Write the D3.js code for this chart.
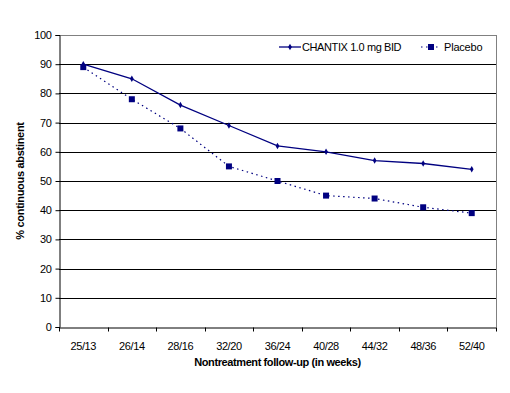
<!DOCTYPE html>
<html>
<head>
<meta charset="utf-8">
<script src="https://cdn.jsdelivr.net/npm/d3@7"></script>
<style>
  body { margin: 0; background: #fff; }
  text { font-family: "Liberation Sans", Arial, sans-serif; }
</style>
</head>
<body>
<div id="viz"></div>
<script>
/*** data ***/
const weeks = ["25/13", "26/14", "28/16", "32/20", "36/24", "40/28", "44/32", "48/36", "52/40"];
const chantix = [90, 85, 76, 69, 62, 60, 57, 56, 54];
const placebo = [89, 78, 68, 55, 50, 45, 44, 41, 39];
const yTicks = [0, 10, 20, 30, 40, 50, 60, 70, 80, 90, 100];

const width = 510, height = 393;
const margin = {top: 35, right: 14, bottom: 66, left: 59};
const navy = "#000080";

const svg = d3.select("#viz")
  .append("svg")
  .attr("width", width)
  .attr("height", height);

const x = d3.scaleBand()
  .domain(weeks)
  .range([margin.left, width - margin.right]);

const y = d3.scaleLinear()
  .domain([0, 100])
  .range([height - margin.bottom, margin.top]);

// gridlines
svg.append("g")
  .selectAll("line")
  .data(yTicks.filter(d => d > 0))
  .join("line")
  .attr("x1", margin.left)
  .attr("x2", width - margin.right)
  .attr("y1", d => Math.round(y(d)) + 0.5)
  .attr("y2", d => Math.round(y(d)) + 0.5)
  .attr("stroke", d => d === 100 ? "#808080" : "#000")
  .attr("stroke-width", 1);

// right border
svg.append("line")
  .attr("x1", width - margin.right + 0.5)
  .attr("x2", width - margin.right + 0.5)
  .attr("y1", y(100))
  .attr("y2", y(0))
  .attr("stroke", "#808080");

// y axis
const yAxis = svg.append("g")
  .attr("transform", `translate(${margin.left + 0.5},0)`)
  .call(d3.axisLeft(y).tickValues(yTicks).tickSize(4).tickPadding(4));
yAxis.selectAll("text").attr("font-size", 11).attr("fill", "#000")
  .style("font-family", "Liberation Sans, Arial").attr("letter-spacing", -0.4);
yAxis.selectAll("line").attr("stroke", "#000");
yAxis.select(".domain").attr("stroke", "#000");

// x axis
const xAxis = svg.append("g")
  .attr("transform", `translate(0,${Math.round(y(0)) + 0.5})`)
  .call(d3.axisBottom(x).tickSize(0).tickPadding(15));
xAxis.selectAll("text").attr("font-size", 11).attr("fill", "#000")
  .style("font-family", "Liberation Sans, Arial").attr("letter-spacing", -0.4);
xAxis.select(".domain").attr("stroke", "#000");
xAxis.selectAll(".bound")
  .data(d3.range(weeks.length + 1))
  .join("line")
  .attr("class", "bound")
  .attr("x1", i => Math.round(margin.left + i * x.step()) + 0.5)
  .attr("x2", i => Math.round(margin.left + i * x.step()) + 0.5)
  .attr("y1", 0)
  .attr("y2", 4)
  .attr("stroke", "#000");

const cx = d => x(d) + x.bandwidth() / 2;

// placebo: dotted line, squares
const linePl = d3.line().x((d, i) => cx(weeks[i])).y(d => y(d));
svg.append("path")
  .datum(placebo)
  .attr("d", linePl)
  .attr("fill", "none")
  .attr("stroke", navy)
  .attr("stroke-width", 1.2)
  .attr("stroke-dasharray", "1.5,3.5");

svg.append("g")
  .selectAll("rect")
  .data(placebo)
  .join("rect")
  .attr("x", (d, i) => cx(weeks[i]) - 3)
  .attr("y", d => y(d) - 3)
  .attr("width", 6)
  .attr("height", 6)
  .attr("fill", navy);

// chantix: solid line, small diamonds
svg.append("path")
  .datum(chantix)
  .attr("d", linePl)
  .attr("fill", "none")
  .attr("stroke", navy)
  .attr("stroke-width", 1.3);

const diamond = d3.symbol().type(d3.symbolDiamond).size(12);
svg.append("g")
  .selectAll("path")
  .data(chantix)
  .join("path")
  .attr("d", diamond)
  .attr("transform", (d, i) => `translate(${cx(weeks[i])},${y(d)})`)
  .attr("fill", navy);

// legend
const lg = svg.append("g");
lg.append("rect")
  .attr("x", 272).attr("y", 36)
  .attr("width", width - margin.right - 272).attr("height", 22)
  .attr("fill", "#fff");
lg.append("line")
  .attr("x1", 279).attr("x2", 301).attr("y1", 47).attr("y2", 47)
  .attr("stroke", navy).attr("stroke-width", 1.3);
lg.append("path")
  .attr("d", diamond)
  .attr("transform", "translate(290,47)")
  .attr("fill", navy);
lg.append("text")
  .attr("x", 302).attr("y", 51)
  .attr("font-size", 11)
  .attr("letter-spacing", -0.4)
  .text("CHANTIX 1.0 mg BID");
lg.append("line")
  .attr("x1", 421).attr("x2", 441).attr("y1", 47).attr("y2", 47)
  .attr("stroke", navy).attr("stroke-width", 1.2)
  .attr("stroke-dasharray", "1.5,3.5");
lg.append("rect")
  .attr("x", 428).attr("y", 44).attr("width", 6).attr("height", 6)
  .attr("fill", navy);
lg.append("text")
  .attr("x", 444).attr("y", 51)
  .attr("font-size", 11)
  .attr("letter-spacing", -0.2)
  .text("Placebo");

// axis titles
svg.append("text")
  .attr("x", (margin.left + width - margin.right) / 2)
  .attr("y", 366)
  .attr("text-anchor", "middle")
  .attr("font-size", 11)
  .attr("font-weight", "bold")
  .attr("letter-spacing", -0.4)
  .text("Nontreatment follow-up (in weeks)");

svg.append("text")
  .attr("transform", `translate(24,${(y(0) + y(100)) / 2}) rotate(-90)`)
  .attr("text-anchor", "middle")
  .attr("font-size", 11)
  .attr("font-weight", "bold")
  .attr("letter-spacing", -0.3)
  .text("% continuous abstinent");
</script>
</body>
</html>
